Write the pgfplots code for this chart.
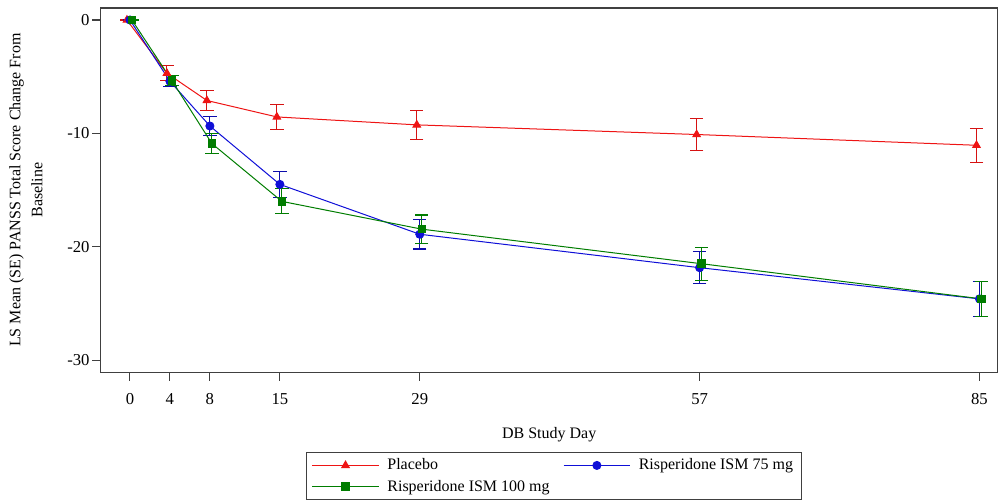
\documentclass[border=0pt]{standalone}
\usepackage{fontspec}
\setmainfont{Liberation Serif}
\usepackage{pgfplots}
\pgfplotsset{compat=1.18}

\definecolor{plared}{RGB}{238,20,20}
\definecolor{lowblue}{RGB}{15,15,215}
\definecolor{highgreen}{RGB}{0,125,0}

% LS mean change from baseline and its SE per study day
% (placebo and 100 mg slightly offset in x so the bars do not overlap)
\pgfplotstableread{
x y e
-0.3 0 0
3.7 -4.7 0.65
7.7 -7.1 0.85
14.7 -8.55 1.1
28.7 -9.25 1.3
56.7 -10.1 1.4
84.7 -11.05 1.5
}\placebo
\pgfplotstableread{
x y e
0 0 0
4 -5.4 0.5
8 -9.35 0.85
15 -14.5 1.15
29 -18.9 1.3
57 -21.85 1.4
85 -24.6 1.55
}\ismlow
\pgfplotstableread{
x y e
0.2 0 0
4.2 -5.35 0.45
8.2 -10.9 0.85
15.2 -16.0 1.1
29.2 -18.45 1.25
57.2 -21.5 1.45
85.2 -24.6 1.55
}\ismhigh

\begin{document}
\begin{tikzpicture}
\begin{axis}[
  scale only axis,
  width=672pt, height=273pt,
  xmin=-2.9, xmax=86.8,
  ymin=-31.07, ymax=1.06,
  xtick={0,4,8,15,29,57,85},
  ytick={-30,-20,-10,0},
  xtick pos=bottom, ytick pos=left,
  tick align=outside,
  major tick length=6.5pt,
  axis line style={black!75, line width=0.8pt},
  tick style={black!75, line width=0.8pt},
  /pgf/number format/assume math mode=true,
  ticklabel style={font=\fontsize{12.5}{14}\selectfont},
  xticklabel style={yshift=-6pt},
  yticklabel style={xshift=1.5pt},
  xlabel={DB Study Day},
  xlabel style={font=\fontsize{12}{14}\selectfont, yshift=-10pt},
  ylabel={LS Mean (SE) PANSS Total Score Change From\\Baseline},
  ylabel style={font=\fontsize{12}{16.5}\selectfont, align=center, inner ysep=7pt},
  ylabel shift=8pt,
  legend columns=2,
  legend cell align=left,
  legend style={
    at={(0.505,-0.22)}, anchor=north,
    draw=black!75, line width=0.8pt,
    font=\fontsize{12}{14}\selectfont,
    inner xsep=4pt, inner ysep=2.5pt,
    row sep=2pt,
    /tikz/every even column/.append style={column sep=8pt},
  },
  legend image code/.code={
    \draw[mark repeat=2, mark phase=2] plot coordinates {(0pt,0pt) (25pt,0pt) (50pt,0pt)};
    \path (54pt,0pt);
  },
  error bars/y dir=both,
  error bars/y explicit,
]
\addplot[plared, line width=0.75pt, mark=triangle*, mark size=3.2pt,
  error bars/error bar style={plared!90!black, line width=0.8pt},
  error bars/error mark options={plared!90!black, rotate=90, mark size=5pt, line width=0.8pt}]
  table[x=x, y=y, y error=e] {\placebo};
\addlegendentry{Placebo}
\addplot[lowblue, line width=0.75pt, mark=*, mark size=3pt,
  error bars/error bar style={lowblue!80!black, line width=0.8pt},
  error bars/error mark options={lowblue!80!black, rotate=90, mark size=5pt, line width=0.8pt}]
  table[x=x, y=y, y error=e] {\ismlow};
\addlegendentry{Risperidone ISM 75 mg}
\addplot[highgreen, line width=0.75pt, mark=square*, mark size=2.8pt,
  error bars/error bar style={highgreen, line width=0.8pt},
  error bars/error mark options={highgreen, rotate=90, mark size=5pt, line width=0.8pt}]
  table[x=x, y=y, y error=e] {\ismhigh};
\addlegendentry{Risperidone ISM 100 mg}
\end{axis}
% white margin above the plot frame
\path ([yshift=6pt]current axis.north);
\end{tikzpicture}
\end{document}
